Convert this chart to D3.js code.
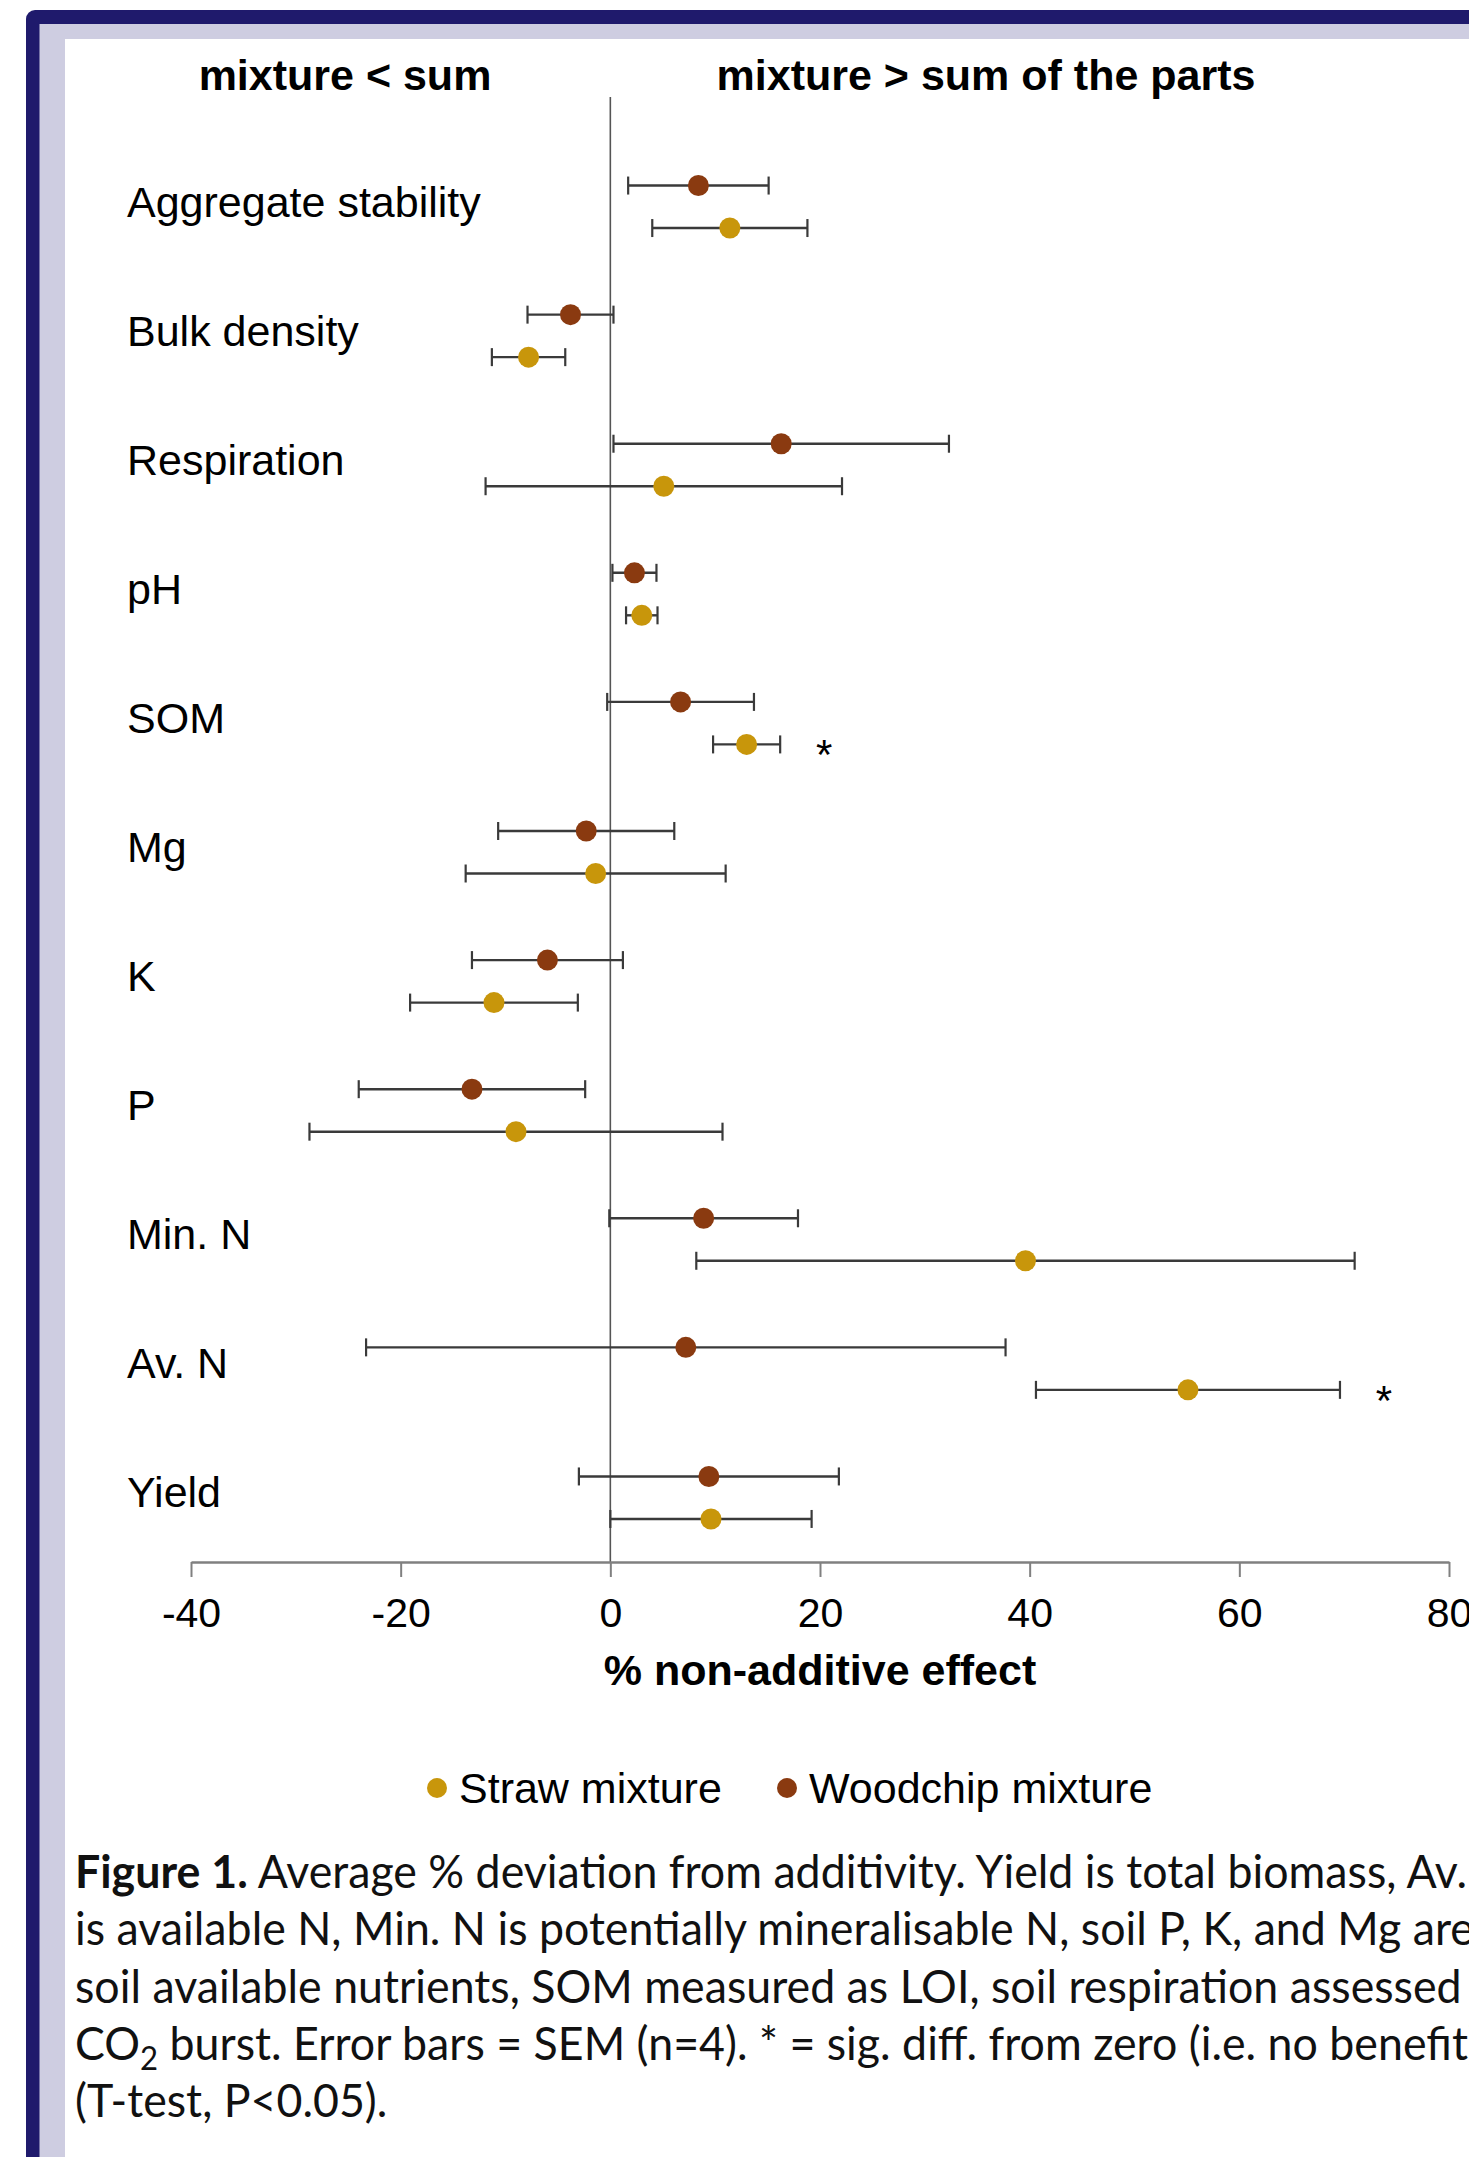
<!DOCTYPE html>
<html>
<head>
<meta charset="utf-8">
<script src="https://cdn.jsdelivr.net/npm/d3@7"></script>
<style>
  html, body { margin: 0; padding: 0; background: #fff; }
  svg { display: block; }
</style>
</head>
<body>
<script>
// ---------------- data ----------------
const categories = ["Aggregate stability", "Bulk density", "Respiration", "pH", "SOM",
                    "Mg", "K", "P", "Min. N", "Av. N", "Yield"];

const woodchipMean = [8.4, -3.8, 16.3, 2.3, 6.7, -2.3, -6.0, -13.2, 8.9, 7.2, 9.4];
const woodchipSem  = [6.7, 4.1, 16.0, 2.1, 7.0, 8.4, 7.2, 10.8, 9.0, 30.5, 12.4];

const strawMean = [11.4, -7.8, 5.1, 3.0, 13.0, -1.4, -11.1, -9.0, 39.6, 55.1, 9.6];
const strawSem  = [7.4, 3.5, 17.0, 1.5, 3.2, 12.4, 8.0, 19.7, 31.4, 14.5, 9.6];
const strawSig  = [false, false, false, false, true, false, false, false, false, true, false];

const xTicks = [-40, -20, 0, 20, 40, 60, 80];
const seriesNames = ["Straw mixture", "Woodchip mixture"];
const headerLeft = "mixture < sum";
const headerRight = "mixture > sum of the parts";
const xTitle = "% non-additive effect";

const captionLines = [
  [{t: "Figure 1.", b: true}, {t: " Average % deviation from additivity. Yield is total biomass, Av. N"}],
  [{t: "is available N, Min. N is potentially mineralisable N, soil P, K, and Mg are"}],
  [{t: "soil available nutrients, SOM measured as LOI, soil respiration assessed by"}],
  [{t: "CO"}, {t: "2", sub: true}, {t: " burst. Error bars = SEM (n=4). * = sig. diff. from zero (i.e. no benefit)"}],
  [{t: "(T-test, P<0.05)."}]
];

// ---------------- styles ----------------
const W = 1469, H = 2157;
const colStraw = "#C8960B";
const colWood = "#8A3A10";
const chartFont = "'Liberation Sans', Arial, sans-serif";

const svg = d3.select("body").append("svg")
  .attr("width", W).attr("height", H)
  .attr("viewBox", `0 0 ${W} ${H}`);

// frame
svg.append("rect").attr("x", 26).attr("y", 10).attr("width", W + 50).attr("height", H + 50)
  .attr("rx", 9).attr("fill", "#1F1A6C");
svg.append("rect").attr("x", 39.5).attr("y", 24).attr("width", W + 50).attr("height", H + 50)
  .attr("fill", "#CECDE1");
svg.append("rect").attr("x", 65).attr("y", 39).attr("width", W + 50).attr("height", H + 50)
  .attr("fill", "#FFFFFF");

// scales
const x = d3.scaleLinear().domain([-40, 80]).range([191, 1449]);
const y = d3.scaleBand().domain(categories).range([142, 1562]);
const plotTop = 97, plotBottom = 1562;
const offWood = -21, offStraw = 21.5;

// headers
svg.append("text").attr("x", 345).attr("y", 90).attr("text-anchor", "middle")
  .style("font-family", chartFont).style("font-weight", "bold").style("font-size", "43px")
  .attr("fill", "#000").text(headerLeft);
svg.append("text").attr("x", 986).attr("y", 90).attr("text-anchor", "middle")
  .style("font-family", chartFont).style("font-weight", "bold").style("font-size", "43px")
  .attr("fill", "#000").text(headerRight);

// zero line
svg.append("line").attr("x1", x(0)).attr("x2", x(0)).attr("y1", plotTop).attr("y2", plotBottom)
  .attr("stroke", "#555").attr("stroke-width", 1.6);

// x axis
const xAxis = d3.axisBottom(x).tickValues(xTicks).tickSize(15).tickSizeOuter(0)
  .tickPadding(21).tickFormat(d => String(d));
const gx = svg.append("g").attr("transform", `translate(0,${plotBottom})`).call(xAxis);
gx.select(".domain").attr("stroke", "#808080").attr("stroke-width", 2.6);
gx.selectAll(".tick line").attr("stroke", "#808080").attr("stroke-width", 2);
gx.selectAll(".tick text").attr("fill", "#000")
  .style("font-family", chartFont).style("font-size", "41px");

// x title
svg.append("text").attr("x", (x.range()[0] + x.range()[1]) / 2).attr("y", 1685)
  .attr("text-anchor", "middle")
  .style("font-family", chartFont).style("font-weight", "bold").style("font-size", "43px")
  .attr("fill", "#000").text(xTitle);

// category labels
svg.append("g").selectAll("text").data(categories).join("text")
  .attr("x", 127).attr("y", d => y(d) + y.bandwidth() / 2 + 10)
  .style("font-family", chartFont).style("font-size", "43px").attr("fill", "#000")
  .text(d => d);

// series data
const series = [
  {name: "wood", mean: woodchipMean, sem: woodchipSem, color: colWood, off: offWood, sig: categories.map(() => false)},
  {name: "straw", mean: strawMean, sem: strawSem, color: colStraw, off: offStraw, sig: strawSig}
];

const capH = 9;
series.forEach(s => {
  const rows = categories.map((c, i) => ({c, m: s.mean[i], e: s.sem[i], sig: s.sig[i]}));
  const g = svg.append("g").attr("class", "series-" + s.name);
  const cy = d => y(d.c) + y.bandwidth() / 2 + s.off;
  // error bars
  g.selectAll("line.bar").data(rows).join("line").attr("class", "bar")
    .attr("x1", d => x(d.m - d.e)).attr("x2", d => x(d.m + d.e))
    .attr("y1", cy).attr("y2", cy)
    .attr("stroke", "#3a3a3a").attr("stroke-width", 2.4);
  g.selectAll("line.capl").data(rows).join("line").attr("class", "capl")
    .attr("x1", d => x(d.m - d.e)).attr("x2", d => x(d.m - d.e))
    .attr("y1", d => cy(d) - capH).attr("y2", d => cy(d) + capH)
    .attr("stroke", "#3a3a3a").attr("stroke-width", 2.2);
  g.selectAll("line.capr").data(rows).join("line").attr("class", "capr")
    .attr("x1", d => x(d.m + d.e)).attr("x2", d => x(d.m + d.e))
    .attr("y1", d => cy(d) - capH).attr("y2", d => cy(d) + capH)
    .attr("stroke", "#3a3a3a").attr("stroke-width", 2.2);
  // dots
  g.selectAll("circle").data(rows).join("circle")
    .attr("cx", d => x(d.m)).attr("cy", cy).attr("r", 10.5)
    .attr("fill", s.color);
  // significance stars
  g.selectAll("text.sig").data(rows.filter(d => d.sig)).join("text").attr("class", "sig")
    .attr("x", d => x(d.m + d.e) + 44).attr("y", d => cy(d) + 25)
    .attr("text-anchor", "middle")
    .style("font-family", chartFont).style("font-size", "42px").attr("fill", "#000")
    .text("*");
});

// legend
const legendItems = [
  {name: seriesNames[0], color: colStraw, cx: 437},
  {name: seriesNames[1], color: colWood, cx: 787}
];
const lg = svg.append("g");
lg.selectAll("circle").data(legendItems).join("circle")
  .attr("cx", d => d.cx).attr("cy", 1788).attr("r", 10).attr("fill", d => d.color);
lg.selectAll("text").data(legendItems).join("text")
  .attr("x", d => d.cx + 22).attr("y", 1803)
  .style("font-family", chartFont).style("font-size", "43px").attr("fill", "#000")
  .text(d => d.name);

// caption
const capFont = "Lato, 'Open Sans', sans-serif";
const capX = 75, capY0 = 1888, capStep = 57.3;
const cap = svg.append("g");
const capInner = cap.append("g");
captionLines.forEach((line, li) => {
  const t = capInner.append("text").attr("x", 0).attr("y", capY0 + li * capStep)
    .style("font-family", capFont).style("font-size", "46px").attr("fill", "#111");
  line.forEach(part => {
    const ts = t.append("tspan").text(part.t);
    if (part.b) ts.style("font-weight", "bold");
    if (part.sub) ts.attr("baseline-shift", "-30%").style("font-size", "32px");
  });
});
// calibrate horizontal scale against the visible width of the first line prefix
const probe = capInner.append("text").style("font-family", capFont).style("font-size", "46px");
probe.append("tspan").style("font-weight", "bold").text("Figure 1.");
probe.append("tspan").text(" Average % deviation from additivity. Yield is total biomass, Av. ");
let w = probe.node().getComputedTextLength();
probe.remove();
let sx = w > 0 ? 1392 / w : 1;
sx = Math.max(0.8, Math.min(1.2, sx));
capInner.attr("transform", `scale(${sx},1)`);
cap.attr("transform", `translate(${capX},0)`);
</script>
</body>
</html>
